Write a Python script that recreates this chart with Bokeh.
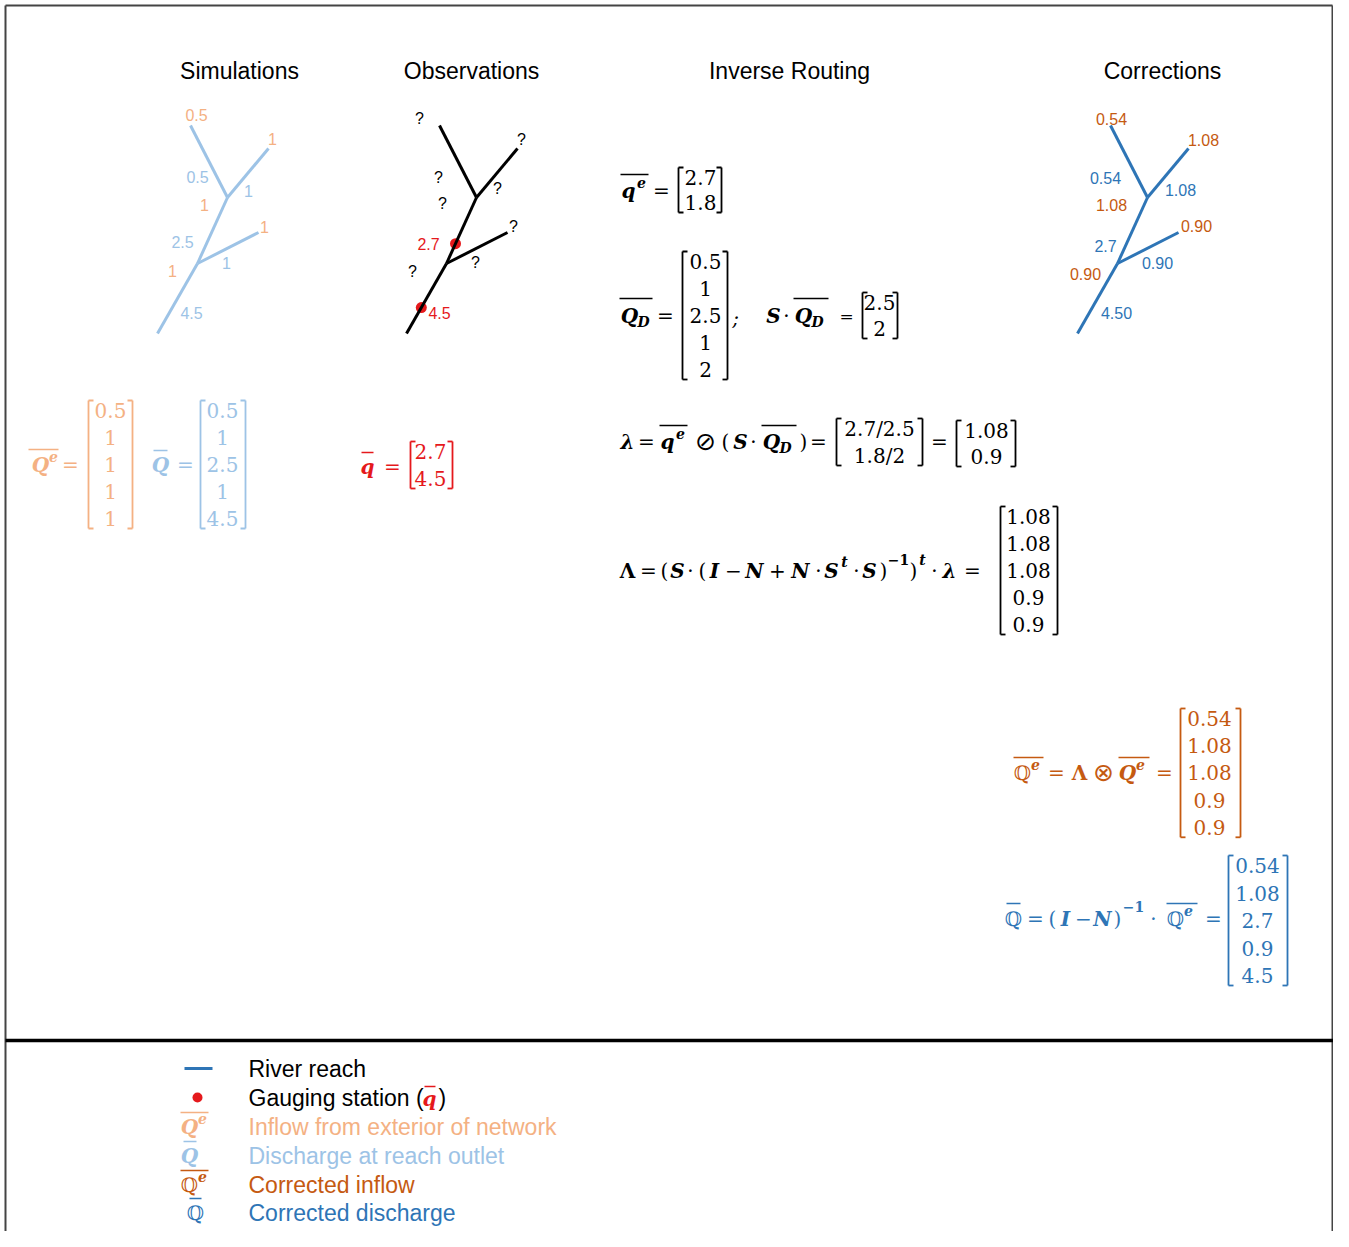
from bokeh.plotting import figure
from bokeh.models import ColumnDataSource, Range1d
from bokeh.embed import file_html
from bokeh.resources import INLINE
from bokeh.core.properties import value

# ---------------- data ----------------
titles = ["Simulations", "Observations", "Inverse Routing", "Corrections"]
sim_inflow = [0.5, 1, 1, 1, 1]            # Q^e (inflow from exterior)
sim_discharge = [0.5, 1, 2.5, 1, 4.5]     # Q (discharge at reach outlet)
obs_discharge = [2.7, 4.5]                # q (gauged discharge)
obs_reach_index = [2, 4]                  # gauged reaches
q_e = [2.7, 1.8]
Q_D = [0.5, 1, 2.5, 1, 2]
S_Q_D = [2.5, 2]
lambda_ratio = ["2.7/2.5", "1.8/2"]
lambda_vals = [1.08, 0.9]
Lambda_vals = [1.08, 1.08, 1.08, 0.9, 0.9]
corr_inflow = [0.54, 1.08, 1.08, 0.9, 0.9]
corr_discharge = [0.54, 1.08, 2.7, 0.9, 4.5]
corr_inflow_labels = ["0.54", "1.08", "1.08", "0.90", "0.90"]
corr_discharge_labels = ["0.54", "1.08", "2.7", "0.90", "4.50"]
legend_labels = ["River reach", "Gauging station (", "Inflow from exterior of network",
                 "Discharge at reach outlet", "Corrected inflow", "Corrected discharge"]

# ---------------- style ----------------
SANS = "Liberation Sans"
SERIF = "DejaVu Serif"
LO = "#F4B183"
LB = "#9DC3E6"
DO = "#C55A11"
BL = "#2E75B6"
RED = "#E5191C"
BK = "#000000"

W, H = 1333, 1231
p = figure(width=W, height=H, x_range=Range1d(0, W), y_range=Range1d(H, 0),
           output_backend="svg", toolbar_location=None, min_border=0)
p.axis.visible = False
p.grid.visible = False
p.outline_line_color = None
p.background_fill_color = "white"

texts = {}
segs = {}


def T(x, y, s, size=20, color=BK, font=SERIF, style="normal", align="center", baseline="middle"):
    key = (font, size, color, style, align, baseline)
    d = texts.setdefault(key, {"x": [], "y": [], "text": []})
    d["x"].append(x)
    d["y"].append(y)
    d["text"].append(s)


def S(x0, y0, x1, y1, color=BK, lw=1.4):
    d = segs.setdefault((color, lw), {"x0": [], "y0": [], "x1": [], "y1": []})
    d["x0"].append(x0); d["y0"].append(y0); d["x1"].append(x1); d["y1"].append(y1)


def fmt(v):
    return f"{v:g}"


def bracket(xl, xr, yt, yb, color, tick=5, lw=1.8):
    S(xl, yt, xl, yb, color, lw); S(xl, yt, xl + tick, yt, color, lw); S(xl, yb, xl + tick, yb, color, lw)
    S(xr, yt, xr, yb, color, lw); S(xr, yt, xr - tick, yt, color, lw); S(xr, yb, xr - tick, yb, color, lw)


def matrix(labels, xc, y0, dy, xl, xr, color, size=20, pad=10):
    for i, s in enumerate(labels):
        T(xc, y0 + i * dy, s, size, color)
    bracket(xl, xr, y0 - pad, y0 + (len(labels) - 1) * dy + pad, color)


def sym(xc, y, base, color, sup=None, sub=None, ovl=None, size=20, base_style="bold italic", ovl_y=None):
    T(xc, y, base, size, color, style=base_style)
    if sup is not None:
        T(xc + 13, y - 8, sup, 14, color, style="bold italic")
    if sub is not None:
        T(xc + 14, y + 6, sub, 14, color, style="bold italic")
    if ovl is not None:
        oy = ovl_y if ovl_y is not None else y - 16
        S(ovl[0], oy, ovl[1], oy, color, 1.5)


def tok(xc, y, s, color, style="normal", size=20, font=SERIF):
    T(xc, y, s, size, color, style=style, font=font)


# ---------------- frame ----------------
S(5, 5, 5, 1231, "#444444", 2)
S(5, 5, 1332, 5, "#444444", 2)
S(1332, 5, 1332, 1231, "#444444", 2)
S(5, 1040, 1333, 1040, BK, 3.5)

# ---------------- titles ----------------
for t, xc in zip(titles, [239, 471, 789, 1162]):
    T(xc, 70, t, 23, BK, font=SANS)

# ---------------- trees ----------------
nodes = {"O": (0, 0), "J1": (40, -70), "L4": (101, -101), "J2": (70, -136), "L1": (33, -208), "L2": (111, -185)}
reaches = [("J2", "L1"), ("J2", "L2"), ("J1", "J2"), ("J1", "L4"), ("O", "J1")]


def tree(ox, oy, color):
    for a, b in reaches:
        xa, ya = nodes[a]; xb, yb = nodes[b]
        S(ox + xa, oy + ya, ox + xb, oy + yb, color, 3)


tree(157, 333, LB)
tree(406, 333, BK)
tree(1077, 333, BL)

LBL = 16
sim_in_off = [(39, -219), (115, -195), (47, -129), (107, -107), (15, -63)]
sim_q_off = [(40, -157), (91, -143), (25, -92), (69, -71), (34, -21)]
for v, (dx, dy) in zip(sim_inflow, sim_in_off):
    T(157 + dx, 333 + dy, fmt(v), LBL, LO, font=SANS)
for v, (dx, dy) in zip(sim_discharge, sim_q_off):
    T(157 + dx, 333 + dy, fmt(v), LBL, LB, font=SANS)

obs_in_off = [(13, -215), (115, -194), (36, -130), (107, -107), (6, -62)]
obs_q_off = [(32, -156), (91, -145), (22, -90), (69, -71), (33, -21)]
for (dx, dy) in obs_in_off:
    T(406 + dx, 333 + dy, "?", LBL, BK, font=SANS)
for i, (dx, dy) in enumerate(obs_q_off):
    if i in obs_reach_index:
        T(406 + dx, 333 + dy, fmt(obs_discharge[obs_reach_index.index(i)]), LBL, RED, font=SANS)
    else:
        T(406 + dx, 333 + dy, "?", LBL, BK, font=SANS)
# gauging stations on reaches 3 and 5
dot_frac = [0.3, 0.37]
dx_, dy_ = [], []
for ri, f in zip(obs_reach_index, dot_frac):
    a, b = reaches[ri]
    xa, ya = nodes[a]; xb, yb = nodes[b]
    dx_.append(406 + xa + f * (xb - xa)); dy_.append(333 + ya + f * (yb - ya))
p.scatter(dx_, dy_, size=11, color=RED, line_color=None)

corr_in_off = [(34, -215), (126, -194), (34, -129), (119, -108), (8, -60)]
corr_q_off = [(28, -156), (103, -144), (28, -88), (80, -71), (39, -21)]
for s, (dx, dy) in zip(corr_inflow_labels, corr_in_off):
    T(1077 + dx, 333 + dy, s, LBL, DO, font=SANS)
for s, (dx, dy) in zip(corr_discharge_labels, corr_q_off):
    T(1077 + dx, 333 + dy, s, LBL, BL, font=SANS)

# ---------------- simulation / observation vectors ----------------
sym(40, 464, "Q", LO, sup="e", ovl=(28, 58), ovl_y=449)
tok(70, 464, "=", LO)
matrix([fmt(v) for v in sim_inflow], 110, 410, 27, 88, 132, LO)
sym(160, 464, "Q", LB, ovl=(153, 167), ovl_y=450)
tok(185, 464, "=", LB)
matrix([fmt(v) for v in sim_discharge], 222, 410, 27, 200, 245, LB)
sym(367, 466, "q", RED, ovl=(361, 373), ovl_y=452)
tok(392, 466, "=", RED)
matrix([fmt(v) for v in obs_discharge], 430, 451, 27, 410, 452, RED)

# ---------------- inverse routing ----------------
sym(628, 190, "q", BK, sup="e", ovl=(620, 648), ovl_y=174)
tok(661, 190, "=", BK)
matrix([fmt(v) for v in q_e], 700, 177, 25, 678, 721, BK)

sym(629, 315, "Q", BK, sub="D", ovl=(619, 652), ovl_y=298)
tok(665, 315, "=", BK)
matrix([fmt(v) for v in Q_D], 705, 261, 27, 682, 727, BK)
tok(735, 317, ";", BK, style="italic")
tok(773, 315, "S", BK, style="bold italic")
tok(786, 315, "·", BK)
sym(803, 315, "Q", BK, sub="D", ovl=(793, 828), ovl_y=298)
tok(846, 315, "=", BK, size=17)
matrix([fmt(v) for v in S_Q_D], 879, 302, 26, 862, 897, BK)

tok(627, 441, "λ", BK, style="bold italic")
tok(646, 441, "=", BK)
sym(667, 441, "q", BK, sup="e", ovl=(659, 687), ovl_y=425)
tok(705, 441, "⊘", BK, size=25, font="DejaVu Sans")
tok(725, 441, "(", BK)
tok(740, 441, "S", BK, style="bold italic")
tok(753, 441, "·", BK)
sym(771, 441, "Q", BK, sub="D", ovl=(761, 796), ovl_y=425)
tok(803, 441, ")", BK)
tok(818, 441, "=", BK)
matrix(lambda_ratio, 879, 428, 27, 836, 922, BK)
tok(939, 441, "=", BK)
matrix([fmt(v) for v in lambda_vals], 986, 430, 26, 956, 1015, BK)

lam_tokens = [(627, "Λ", "bold"), (648, "=", "normal"), (664, "(", "normal"), (677, "S", "bold italic"),
              (690, "·", "normal"), (702, "(", "normal"), (714, "I", "bold italic"), (733, "−", "normal"),
              (754, "N", "bold italic"), (777, "+", "normal"), (800, "N", "bold italic"), (818, "·", "normal"),
              (831, "S", "bold italic"), (856, "·", "normal"), (869, "S", "bold italic"), (883, ")", "normal"),
              (913, ")", "normal"), (934, "·", "normal"), (949, "λ", "bold italic"), (972, "=", "normal")]
for xc, s, st in lam_tokens:
    tok(xc, 570, s, BK, style=st)
T(844, 561, "t", 14, BK, style="bold italic")
T(898, 559, "−1", 14, BK, style="bold")
T(922, 559, "t", 14, BK, style="bold italic")
matrix([fmt(v) for v in Lambda_vals], 1028, 516, 27, 1000, 1057, BK)

# ---------------- corrections ----------------
sym(1022, 772, "ℚ", DO, sup="e", ovl=(1013, 1043), ovl_y=757, base_style="normal")
tok(1056, 772, "=", DO)
tok(1079, 772, "Λ", DO, style="bold")
tok(1103, 772, "⊗", DO, size=25, font="DejaVu Sans")
sym(1127, 772, "Q", DO, sup="e", ovl=(1118, 1149), ovl_y=757)
tok(1164, 772, "=", DO)
matrix([fmt(v) for v in corr_inflow], 1209, 718, 27.2, 1180, 1240, DO)

sym(1013, 918, "ℚ", BL, ovl=(1006, 1020), ovl_y=903, base_style="normal")
tok(1035, 918, "=", BL)
tok(1052, 918, "(", BL)
tok(1065, 918, "I", BL, style="bold italic")
tok(1083, 918, "−", BL)
tok(1102, 918, "N", BL, style="bold italic")
tok(1117, 918, ")", BL)
T(1133, 906, "−1", 14, BL, style="bold")
tok(1153, 918, "·", BL)
sym(1175, 918, "ℚ", BL, sup="e", ovl=(1166, 1197), ovl_y=903, base_style="normal")
tok(1213, 918, "=", BL)
matrix([fmt(v) for v in corr_discharge], 1257, 865, 27.5, 1228, 1287, BL)

# ---------------- legend ----------------
leg_y = [1068, 1097, 1126, 1155, 1184, 1212]
leg_col = [BK, BK, LO, LB, DO, BL]
for s, y, c in zip(legend_labels, leg_y, leg_col):
    T(248, y, s, 23, c, font=SANS, align="left")
S(184, leg_y[0], 212, leg_y[0], BL, 3)
p.scatter([197], [leg_y[1]], size=10, color=RED, line_color=None)
sym(429, leg_y[1] + 1, "q", RED, ovl=(424, 435), ovl_y=leg_y[1] - 11)
T(438, leg_y[1], ")", 23, BK, font=SANS, align="left")
sym(189, leg_y[2], "Q", LO, sup="e", ovl=(180, 208), ovl_y=leg_y[2] - 14)
sym(189, leg_y[3], "Q", LB, ovl=(183, 196), ovl_y=leg_y[3] - 14)
sym(189, leg_y[4], "ℚ", DO, sup="e", ovl=(180, 208), ovl_y=leg_y[4] - 14, base_style="normal")
sym(195, leg_y[5], "ℚ", BL, ovl=(189, 201), ovl_y=leg_y[5] - 14, base_style="normal")

# ---------------- render collected glyphs ----------------
for (color, lw), d in segs.items():
    p.segment(x0="x0", y0="y0", x1="x1", y1="y1", source=ColumnDataSource(d), line_color=color, line_width=lw)
for (font, size, color, style, align, baseline), d in texts.items():
    p.text(x="x", y="y", text="text", source=ColumnDataSource(d), text_font=value(font),
           text_font_size=f"{size}px", text_color=color, text_font_style=style,
           text_align=align, text_baseline=baseline)

open("out.html", "w").write(file_html(p, INLINE))
